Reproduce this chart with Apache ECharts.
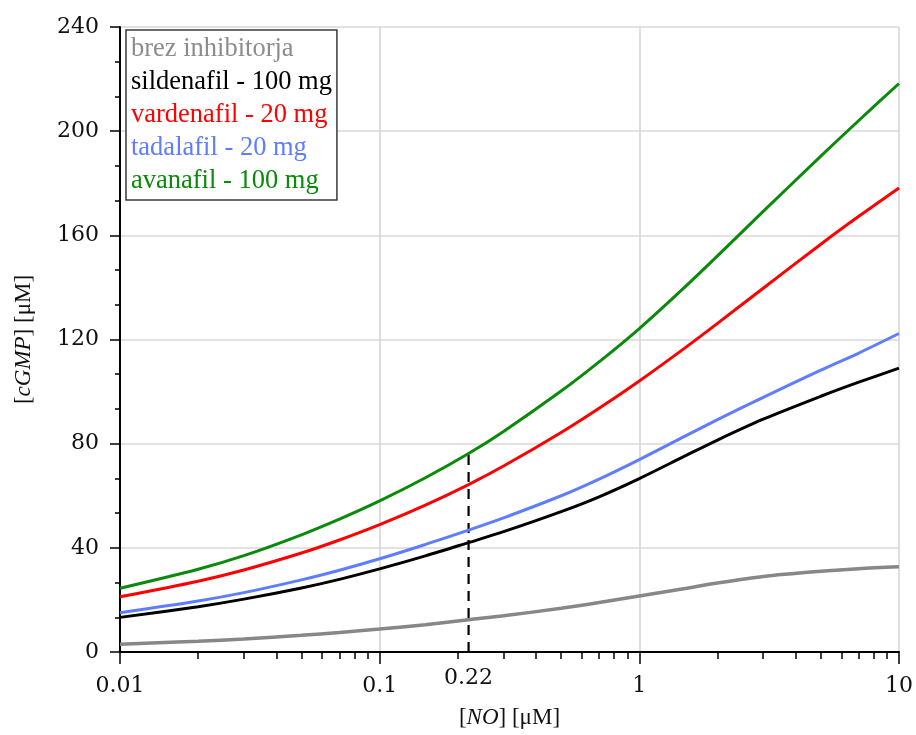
<!DOCTYPE html>
<html>
<head>
<meta charset="utf-8">
<script src="https://cdn.jsdelivr.net/npm/echarts@6/dist/echarts.min.js"></script>
<style>
  html, body { margin: 0; padding: 0; background: #ffffff; }
  #chart { width: 916px; height: 735px; }
</style>
</head>
<body>
<div id="chart"></div>
<script>
// [NO] concentrations (µM) at which cGMP was sampled
const noConc = [0.01, 0.02, 0.03, 0.05, 0.07, 0.1, 0.15, 0.22, 0.3, 0.5, 0.7, 1, 1.5, 2, 3, 5, 7, 10];

// [cGMP] (µM) for each case
const brezInhibitorja = [3.0, 4.1, 5.0, 6.4, 7.5, 8.8, 10.5, 12.4, 13.9, 16.8, 19.0, 21.5, 24.4, 26.5, 29.0, 31.0, 32.0, 32.7];
const sildenafil100   = [13.3, 17.4, 20.3, 24.6, 27.9, 31.9, 36.9, 42.0, 46.2, 53.9, 59.6, 66.6, 75.3, 81.4, 89.4, 98.2, 103.6, 109.0];
const vardenafil20    = [21.2, 27.2, 31.5, 38.0, 43.0, 48.9, 56.4, 64.3, 71.4, 84.3, 93.6, 104.1, 116.8, 126.2, 139.7, 156.6, 167.3, 178.2];
const tadalafil20     = [15.1, 19.6, 22.8, 27.7, 31.4, 35.8, 41.3, 46.8, 51.5, 60.0, 66.4, 73.9, 82.9, 89.2, 97.8, 108.2, 114.8, 122.3];
const avanafil100     = [24.5, 31.8, 37.0, 45.0, 51.0, 58.0, 66.9, 76.2, 84.7, 100.2, 111.4, 124.2, 140.2, 152.1, 169.2, 190.4, 204.1, 218.3];

const seriesNames = [
  'brez inhibitorja',
  'sildenafil - 100 mg',
  'vardenafil - 20 mg',
  'tadalafil - 20 mg',
  'avanafil - 100 mg'
];
const seriesValues = [brezInhibitorja, sildenafil100, vardenafil20, tadalafil20, avanafil100];
const lineColors = ['#878787', '#000000', '#ff0000', '#5f7dff', '#0a8a0a'];
const legendColors = ['#8c8c8c', '#000000', '#ff0000', '#5f7dff', '#0a8a0a'];

// axis ticks
const yTicks = [0, 40, 80, 120, 160, 200, 240];
const xMinorTicks = [0.02, 0.03, 0.04, 0.05, 0.06, 0.07, 0.08, 0.09,
                     0.2, 0.3, 0.4, 0.5, 0.6, 0.7, 0.8, 0.9,
                     2, 3, 4, 5, 6, 7, 8, 9];
// highlighted concentration; the guide rises to the avanafil curve there
const markedNo = 0.22;
const markedCgmp = avanafil100[noConc.indexOf(markedNo)];

const chart = echarts.init(document.getElementById('chart'), null, { renderer: 'canvas' });

const tickFont = { fontFamily: 'DejaVu Serif', fontSize: 22, color: '#111111' };
const fmtNum = v => String(+Number(v).toPrecision(3));

const logAxisBase = {
  type: 'log', logBase: 10, min: 0.01, max: 10, gridIndex: 0, position: 'bottom'
};

const lineSeries = seriesNames.map((name, k) => ({
  name: name,
  type: 'line',
  xAxisIndex: 0,
  yAxisIndex: 0,
  data: noConc.map((x, i) => [x, seriesValues[k][i]]),
  smooth: 0.3,
  showSymbol: false,
  symbol: 'none',
  silent: true,
  z: 3 + k,
  lineStyle: { color: lineColors[k], width: k === 0 ? 3.5 : 3 },
  itemStyle: { color: lineColors[k] }
}));

const guideSeries = {
  name: 'guide',
  type: 'line',
  xAxisIndex: 0,
  yAxisIndex: 0,
  data: [[markedNo, 0], [markedNo, markedCgmp]],
  showSymbol: false,
  symbol: 'none',
  silent: true,
  z: 2,
  lineStyle: { color: '#000000', width: 2.2, type: [10, 7] }
};

const option = {
  backgroundColor: '#ffffff',
  animation: false,
  grid: { left: 120, right: 16, top: 27, bottom: 83, containLabel: false },
  legend: {
    show: true,
    orient: 'vertical',
    left: 126,
    top: 30,
    padding: [3, 5, 2, 0],
    itemGap: 0,
    itemWidth: 0,
    itemHeight: 1,
    icon: 'none',
    selectedMode: false,
    backgroundColor: '#ffffff',
    borderColor: '#3a3a3a',
    borderWidth: 1.5,
    borderRadius: 0,
    textStyle: { fontFamily: 'Liberation Serif', fontSize: 26.5, lineHeight: 33 },
    data: seriesNames.map((n, k) => ({ name: n, textStyle: { color: legendColors[k] } }))
  },
  xAxis: [
    Object.assign({}, logAxisBase, {
      name: '[{i|NO}] [μM]',
      nameLocation: 'middle',
      nameGap: 54,
      nameTextStyle: {
        fontFamily: 'Liberation Serif', fontSize: 23, color: '#111111',
        rich: { i: { fontFamily: 'Liberation Serif', fontSize: 23, fontStyle: 'italic', color: '#111111' } }
      },
      axisLine: { show: true, onZero: false, lineStyle: { color: '#000000', width: 2 } },
      axisTick: { show: true, inside: false, length: 12, lineStyle: { color: '#000000', width: 1.5 } },
      axisLabel: Object.assign({ margin: 23, formatter: fmtNum }, tickFont),
      splitLine: { show: true, lineStyle: { color: '#d3d3d3', width: 1.5 } },
      minorTick: { show: false },
      minorSplitLine: { show: false }
    }),
    Object.assign({}, logAxisBase, {
      axisLine: { show: false },
      axisTick: { show: true, inside: false, length: 7, customValues: xMinorTicks,
                  lineStyle: { color: '#000000', width: 1.5 } },
      axisLabel: { show: false },
      splitLine: { show: false }
    }),
    Object.assign({}, logAxisBase, {
      axisLine: { show: false },
      axisTick: { show: false },
      axisLabel: Object.assign({ show: true, margin: 15, customValues: [markedNo], formatter: fmtNum }, tickFont),
      splitLine: { show: false }
    })
  ],
  yAxis: {
    type: 'value',
    min: yTicks[0],
    max: yTicks[yTicks.length - 1],
    interval: yTicks[1] - yTicks[0],
    name: '[{i|cGMP}] [μM]',
    nameLocation: 'middle',
    nameGap: 85,
    nameRotate: 90,
    nameTextStyle: {
      fontFamily: 'Liberation Serif', fontSize: 23, color: '#111111',
      rich: { i: { fontFamily: 'Liberation Serif', fontSize: 23, fontStyle: 'italic', color: '#111111' } }
    },
    axisLine: { show: true, onZero: false, lineStyle: { color: '#000000', width: 2 } },
    axisTick: { show: true, inside: false, length: 10, lineStyle: { color: '#000000', width: 1.5 } },
    minorTick: { show: true, splitNumber: 3, length: 5, lineStyle: { color: '#000000', width: 1.5 } },
    axisLabel: Object.assign({ margin: 21 }, tickFont),
    splitLine: { show: true, lineStyle: { color: '#d9d9d9', width: 1.5 } },
    minorSplitLine: { show: false }
  },
  series: [guideSeries].concat(lineSeries)
};

chart.setOption(option);
</script>
</body>
</html>
